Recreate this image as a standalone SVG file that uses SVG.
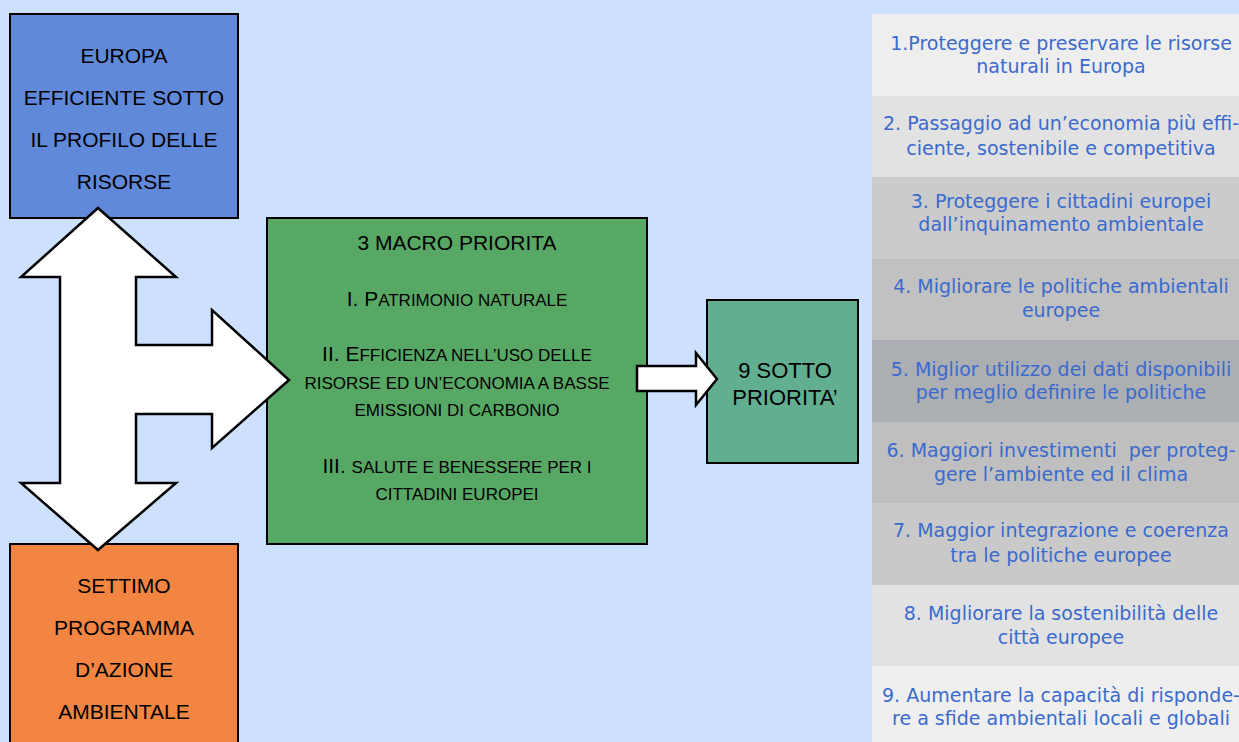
<svg xmlns="http://www.w3.org/2000/svg" width="1239" height="742" viewBox="0 0 1239 742">
<style>
.box{stroke:#000;stroke-width:2}
.bt{font-family:"Liberation Sans",Arial,sans-serif;font-size:21px;fill:#000;text-anchor:middle}
.sc{font-size:17px}
.pt{font-family:"DejaVu Sans",Verdana,sans-serif;font-size:19px;fill:#3A6ACD;text-anchor:middle}
.arrow{fill:#fff;stroke:#000;stroke-width:2.5;stroke-linejoin:miter}
</style>
<rect x="0" y="0" width="1239" height="742" fill="#CDE0FD"/>

<g id="europa">
<rect class="box" x="10" y="14" width="228" height="204" fill="#6089DA"/>
<text class="bt" x="124" y="63">EUROPA</text>
<text class="bt" x="124" y="105">EFFICIENTE SOTTO</text>
<text class="bt" x="124" y="147">IL PROFILO DELLE</text>
<text class="bt" x="124" y="189">RISORSE</text>
</g>

<g id="settimo">
<rect class="box" x="10" y="544" width="228" height="210" fill="#F28541"/>
<text class="bt" x="124" y="593">SETTIMO</text>
<text class="bt" x="124" y="635">PROGRAMMA</text>
<text class="bt" x="124" y="677">D’AZIONE</text>
<text class="bt" x="124" y="719">AMBIENTALE</text>
</g>

<g id="macro">
<rect class="box" x="267" y="218" width="380" height="326" fill="#58A865"/>
<text class="bt" x="457" y="250">3 MACRO PRIORITA</text>
<text class="bt" x="457" y="306">I. P<tspan class="sc">ATRIMONIO NATURALE</tspan></text>
<text class="bt" x="457" y="361">II. E<tspan class="sc">FFICIENZA NELL’USO DELLE</tspan></text>
<text class="bt sc" x="457" y="389">RISORSE ED UN’ECONOMIA A BASSE</text>
<text class="bt sc" x="457" y="416">EMISSIONI DI CARBONIO</text>
<text class="bt" x="457" y="473">III. <tspan class="sc">SALUTE E BENESSERE PER I</tspan></text>
<text class="bt sc" x="457" y="500">CITTADINI EUROPEI</text>
</g>

<g id="sotto">
<rect class="box" x="707" y="300" width="151" height="163" fill="#61AE91"/>
<text class="bt" x="785" y="378" style="font-size:22px">9 SOTTO</text>
<text class="bt" x="785" y="405" style="font-size:22px">PRIORITA’</text>
</g>

<g id="priorities">
<g id="p1"><rect x="872" y="14" width="367" height="82" fill="#EEEEEE"/>
<text class="pt" x="1061" y="50">1.Proteggere e preservare le risorse</text>
<text class="pt" x="1061" y="73">naturali in Europa</text></g>
<g id="p2"><rect x="872" y="96" width="367" height="81" fill="#E2E2E2"/>
<text class="pt" x="1061" y="130">2. Passaggio ad un’economia più effi-</text>
<text class="pt" x="1061" y="155">ciente, sostenibile e competitiva</text></g>
<g id="p3"><rect x="872" y="177" width="367" height="82" fill="#CBCBCB"/>
<text class="pt" x="1061" y="208">3. Proteggere i cittadini europei</text>
<text class="pt" x="1061" y="231">dall’inquinamento ambientale</text></g>
<g id="p4"><rect x="872" y="259" width="367" height="81" fill="#C1C1C1"/>
<text class="pt" x="1061" y="293">4. Migliorare le politiche ambientali</text>
<text class="pt" x="1061" y="317">europee</text></g>
<g id="p5"><rect x="872" y="340" width="367" height="82" fill="#ABAEB2"/>
<text class="pt" x="1061" y="376">5. Miglior utilizzo dei dati disponibili</text>
<text class="pt" x="1061" y="399">per meglio definire le politiche</text></g>
<g id="p6"><rect x="872" y="422" width="367" height="81" fill="#BFBFBF"/>
<text class="pt" x="1061" y="457" xml:space="preserve">6. Maggiori investimenti  per proteg-</text>
<text class="pt" x="1061" y="481">gere l’ambiente ed il clima</text></g>
<g id="p7"><rect x="872" y="503" width="367" height="82" fill="#C9C9C9"/>
<text class="pt" x="1061" y="537">7. Maggior integrazione e coerenza</text>
<text class="pt" x="1061" y="562">tra le politiche europee</text></g>
<g id="p8"><rect x="872" y="585" width="367" height="81" fill="#E2E2E2"/>
<text class="pt" x="1061" y="620">8. Migliorare la sostenibilità delle</text>
<text class="pt" x="1061" y="644">città europee</text></g>
<g id="p9"><rect x="872" y="666" width="367" height="76" fill="#EFEFEF"/>
<text class="pt" x="1061" y="702">9. Aumentare la capacità di risponde-</text>
<text class="pt" x="1061" y="725">re a sfide ambientali locali e globali</text></g>
</g>

<g id="connectors">
<polygon class="arrow" points="98,208 176,277 136,277 136,345 212,345 212,310 289,380 212,448 212,414 136,414 136,483 176,483 98,550 21,483 60,483 60,277 21,277"/>
<polygon class="arrow" points="637,366 696,366 696,353 717,379 696,405 696,391 637,391"/>
</g>
</svg>
